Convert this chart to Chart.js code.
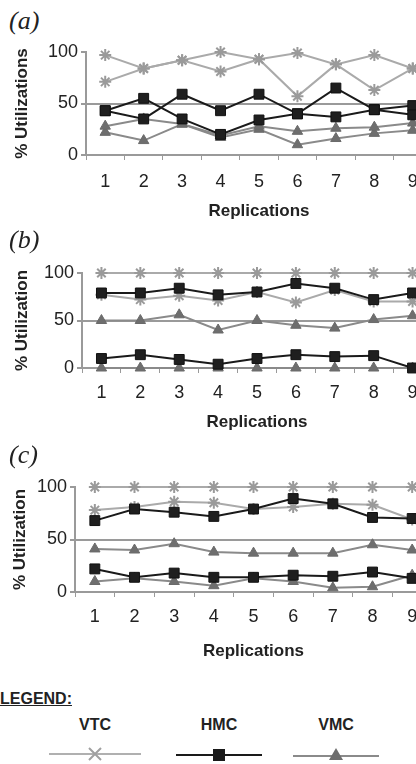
<!DOCTYPE html>
<html>
<head>
<meta charset="utf-8">
<script src="https://cdn.jsdelivr.net/npm/chart.js@4.4.1/dist/chart.umd.min.js"></script>
<style>
  html, body { margin:0; padding:0; background:#fff; width:416px; height:764px; overflow:hidden; position:relative;
               font-family:"Liberation Sans", Arial, sans-serif; color:#222; }
  .panel { position:absolute; left:0; width:440px; }
  .tag { position:absolute; left:9px; font:italic 26px "Liberation Serif", "Times New Roman", serif; color:#222; line-height:1; }
  .legend-title { position:absolute; left:0; top:690px; font-weight:bold; font-size:16px; text-decoration:underline; }
  .legend-item { position:absolute; top:716px; width:100px; text-align:center; font-weight:bold; font-size:16px; }
  .legend-item svg { display:block; margin:12px auto 0; }
</style>
</head>
<body>
<div class="tag" style="top:8px;">(a)</div>
<div class="panel" style="top:0;height:230px;"><canvas id="chartA"></canvas></div>
<div class="tag" style="top:227px;">(b)</div>
<div class="panel" style="top:230px;height:211px;"><canvas id="chartB"></canvas></div>
<div class="tag" style="top:442px;">(c)</div>
<div class="panel" style="top:445px;height:225px;"><canvas id="chartC"></canvas></div>

<div class="legend-title">LEGEND:</div>
<div class="legend-item" style="left:45px;">VTC
  <svg width="92" height="16"><line x1="0" y1="8" x2="92" y2="8" stroke="#b0b0b0" stroke-width="2"/>
    <path d="M40 2 L52 14 M52 2 L40 14" stroke="#a0a0a0" stroke-width="2"/></svg>
</div>
<div class="legend-item" style="left:169px;">HMC
  <svg width="86" height="16"><line x1="0" y1="9" x2="86" y2="9" stroke="#1a1a1a" stroke-width="2"/>
    <rect x="37" y="3" width="12" height="12" fill="#1a1a1a"/></svg>
</div>
<div class="legend-item" style="left:286px;">VMC
  <svg width="86" height="16"><line x1="0" y1="10" x2="86" y2="10" stroke="#8a8a8a" stroke-width="2"/>
    <path d="M43 2 L50 14 L36 14 Z" fill="#6e6e6e"/></svg>
</div>

<script>
'use strict';
// ── Daten ──
const replications = ['1','2','3','4','5','6','7','8','9'];
const yTicks = [0, 50, 100];

// (a)
const vtcA1 = [97, 84, 92, 81, 93, 57, 88, 63, 84];
const vtcA2 = [71, 84, 92, 100, 93, 99, 88, 97, 84];
const hmcA1 = [43, 55, 35, 20, 34, 40, 37, 44, 39];
const hmcA2 = [43, 35, 59, 43, 59, 40, 65, 44, 48];
const vmcA1 = [28, 35, 30, 19, 28, 23, 26, 27, 31];
const vmcA2 = [22, 14, 30, 17, 25, 10, 16, 21, 24];

// (b)
const vtcB1 = [100, 100, 100, 100, 100, 100, 100, 100, 100];
const vtcB2 = [77, 72, 76, 71, 80, 69, 82, 70, 70];
const hmcB1 = [79, 79, 84, 77, 80, 89, 84, 72, 79];
const hmcB2 = [10, 14, 9, 4, 10, 14, 12, 13, 0];
const vmcB1 = [50, 50, 56, 40, 50, 45, 42, 51, 55];
const vmcB2 = [0, 0, 0, 0, 0, 0, 0, 0, 0];

// (c)
const vtcC1 = [100, 100, 100, 100, 100, 100, 100, 100, 100];
const vtcC2 = [78, 81, 86, 85, 79, 81, 84, 83, 69];
const hmcC1 = [68, 79, 76, 72, 79, 89, 84, 71, 70];
const hmcC2 = [22, 14, 18, 14, 14, 16, 15, 19, 13];
const vmcC1 = [41, 40, 46, 38, 37, 37, 37, 45, 40];
const vmcC2 = [10, 13, 10, 6, 13, 10, 4, 5, 16];

const AXIS = '#9a9a9a';
const TXT  = '#222';
const FONT = '"Liberation Sans", Arial, sans-serif';

const vtc = data => ({ data, clip:false, borderColor:'#aaaaaa', pointBorderColor:'#9a9a9a', pointBackgroundColor:'#9a9a9a',
  pointStyle:'star', pointRadius:6, pointBorderWidth:2, borderWidth:2, order:3 });
const hmc = data => ({ data, clip:false, borderColor:'#1a1a1a', pointBorderColor:'#111', pointBackgroundColor:'#1f1f1f',
  pointStyle:'rect', pointRadius:7, pointBorderWidth:1, borderWidth:2, order:1 });
const vmc = data => ({ data, clip:false, borderColor:'#8a8a8a', pointBorderColor:'#6a6a6a', pointBackgroundColor:'#6e6e6e',
  pointStyle:'triangle', pointRadius:6, pointBorderWidth:1, borderWidth:2, order:2 });

function makePanel(id, sets, p) {
  new Chart(document.getElementById(id), {
    type: 'line',
    data: { labels: replications, datasets: sets },
    options: {
      responsive: true,
      maintainAspectRatio: false,
      animation: false,
      layout: { padding: { top: p.top, left: 0, right: 0, bottom: 0 } },
      plugins: { legend: { display:false }, tooltip: { enabled:false } },
      elements: { line: { tension: 0 } },
      scales: {
        x: {
          offset: true,
          border: { color: AXIS, width: 2 },
          grid: { offset: true, drawOnChartArea: false, tickLength: 5, color: AXIS, tickWidth: 1 },
          ticks: { color: TXT, padding: p.tickPad, font: { family: FONT, size: 18 } },
          title: { display: true, text: 'Replications', color: TXT, padding: { top: 0, bottom: 8 },
                   font: { family: FONT, size: 17, weight: 'bold' } },
          afterFit: s => { s.height = p.xH; },
        },
        y: {
          min: 0, max: 100,
          afterBuildTicks: s => { s.ticks = yTicks.map(v => ({ value: v })); },
          border: { color: AXIS, width: 2 },
          grid: {
            tickLength: 5, tickColor: AXIS, lineWidth: 2,
            color: c => (c.tick && c.tick.value === 50) ? AXIS : 'rgba(0,0,0,0)',
          },
          ticks: { color: TXT, padding: 3, font: { family: FONT, size: 18 } },
          title: { display: true, text: p.yTitle, color: TXT, padding: { top: p.titlePad, bottom: 0 },
                   font: { family: FONT, size: 17, weight: 'bold' } },
          afterFit: s => { s.width = p.yW; },
        },
      },
    },
  });
}

makePanel('chartA', [hmc(hmcA1), hmc(hmcA2), vmc(vmcA1), vmc(vmcA2), vtc(vtcA1), vtc(vtcA2)],
  { top: 52, xH: 75, tickPad: 11, yW: 86, titlePad: 12, yTitle: '% Utilizations' });
makePanel('chartB', [hmc(hmcB1), hmc(hmcB2), vmc(vmcB1), vmc(vmcB2), vtc(vtcB1), vtc(vtcB2)],
  { top: 43, xH: 73, tickPad: 9, yW: 82, titlePad: 12, yTitle: '% Utilization' });
makePanel('chartC', [hmc(hmcC1), hmc(hmcC2), vmc(vmcC1), vmc(vmcC2), vtc(vtcC1), vtc(vtcC2)],
  { top: 42, xH: 78, tickPad: 9, yW: 75, titlePad: 10, yTitle: '% Utilization' });
</script>
</body>
</html>
